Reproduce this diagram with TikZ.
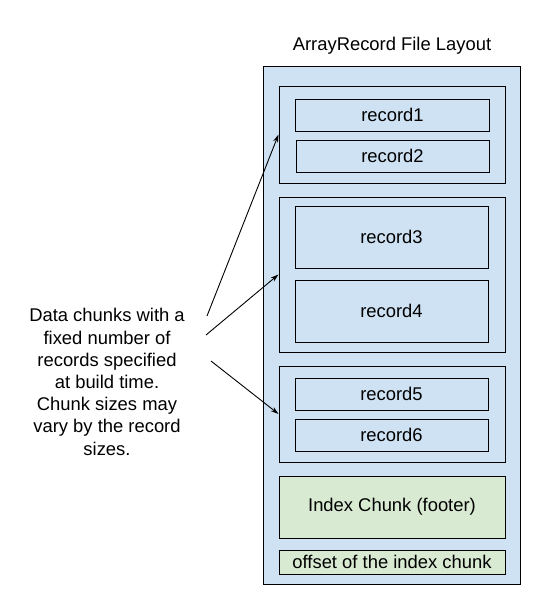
\documentclass[tikz,border=0pt]{standalone}
\usepackage{fontspec}
\setmainfont{Liberation Sans}
\usetikzlibrary{arrows.meta}
\definecolor{lblue}{HTML}{CFE2F3}
\definecolor{lgreen}{HTML}{D9EAD3}
\tikzset{
  box/.style={draw=black, line width=1pt, inner sep=0pt, font=\fontsize{18.4}{22}\selectfont},
  outerbox/.style={box, fill=lblue},
  chunkbox/.style={box, fill=lblue},
  recbox/.style={box, fill=lblue},
  greenbox/.style={box, fill=lgreen},
  arr/.style={line width=0.9pt, -{Stealth[length=8pt,width=5pt]}},
  lbl/.style={font=\fontsize{18.4}{22.2}\selectfont, align=center, inner sep=0pt}
}
\begin{document}
\begin{tikzpicture}[x=1pt,y=-1pt]
\useasboundingbox (0,0) rectangle (548,605);
\node[lbl] (title) at (392,46) {ArrayRecord File Layout};
\node[outerbox, minimum width=257pt, minimum height=518pt] (file) at (392,325.5) {};
% chunk 1
\node[chunkbox, minimum width=226pt, minimum height=97pt] (c1) at (392,134.5) {};
\node[recbox, minimum width=194pt, minimum height=32pt] (r1) at (392.5,115) {record1};
\node[recbox, minimum width=193pt, minimum height=32pt] (r2) at (392.5,156) {record2};
% chunk 2
\node[chunkbox, minimum width=226pt, minimum height=155pt] (c2) at (392,274.5) {};
\node[recbox, minimum width=193pt, minimum height=62pt] (r3) at (391.5,237) {record3};
\node[recbox, minimum width=193pt, minimum height=62pt] (r4) at (391.5,311) {record4};
% chunk 3
\node[chunkbox, minimum width=226pt, minimum height=96pt] (c3) at (392,414) {};
\node[recbox, minimum width=193pt, minimum height=32pt] (r5) at (391.5,394) {record5};
\node[recbox, minimum width=193pt, minimum height=32pt] (r6) at (391.5,435) {record6};
% index
\node[greenbox, minimum width=226pt, minimum height=62pt] (idx) at (392,507) {Index Chunk (footer)};
\node[greenbox, minimum width=226pt, minimum height=24pt] (off) at (392,562) {offset of the index chunk};
% description
\node[lbl] (desc) at (107,382) {Data chunks with a\\fixed number of\\records specified\\at build time.\\Chunk sizes may\\vary by the record\\sizes.};
\coordinate (s1) at (207,316);
\coordinate (s2) at (206,335);
\coordinate (s3) at (211,361);
\draw[arr] (s1) -- (c1.west);
\draw[arr] (s2) -- (c2.west);
\draw[arr] (s3) -- (c3.west);
\end{tikzpicture}
\end{document}
